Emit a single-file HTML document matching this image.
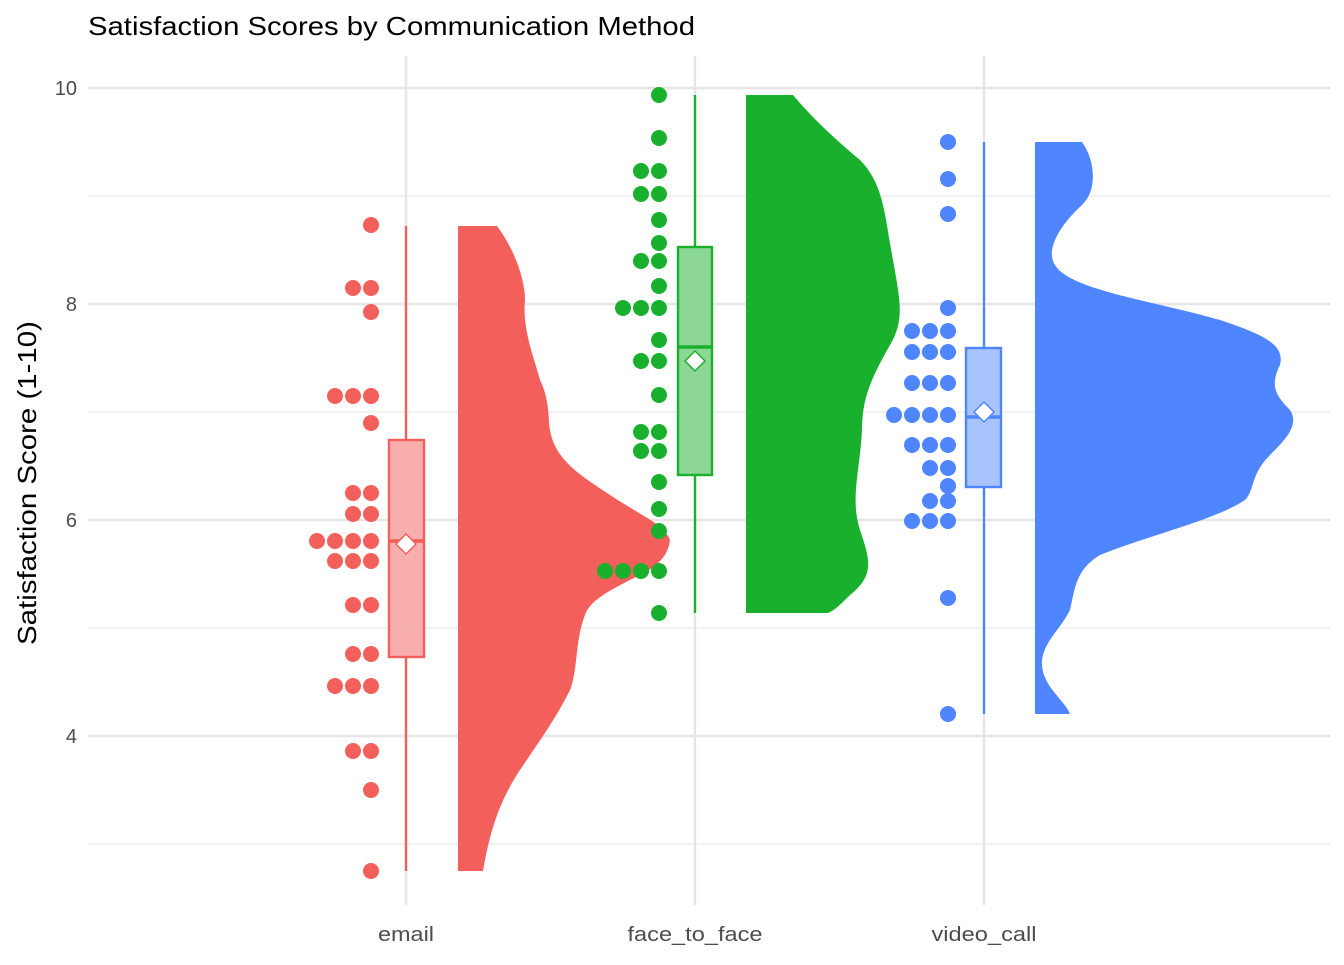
<!DOCTYPE html>
<html><head><meta charset="utf-8"><style>
body{margin:0;background:#fff;}
text{font-family:"Liberation Sans",Arial,sans-serif;}
</style></head><body>
<svg width="1344" height="960" xmlns="http://www.w3.org/2000/svg">
<rect width="1344" height="960" fill="#fff"/>
<g stroke="#ebebeb" stroke-width="1.2">
<line x1="88" x2="1330" y1="196" y2="196"/><line x1="88" x2="1330" y1="412" y2="412"/>
<line x1="88" x2="1330" y1="628" y2="628"/><line x1="88" x2="1330" y1="844" y2="844"/>
</g>
<g stroke="#e5e5e5" stroke-width="2.4">
<line x1="88" x2="1330" y1="88" y2="88"/><line x1="88" x2="1330" y1="304" y2="304"/>
<line x1="88" x2="1330" y1="520" y2="520"/><line x1="88" x2="1330" y1="736" y2="736"/>
<line x1="406" x2="406" y1="56" y2="905"/><line x1="695" x2="695" y1="56" y2="905"/><line x1="984" x2="984" y1="56" y2="905"/>
</g>
<g font-size="20" fill="#4d4d4d" text-anchor="end">
<text x="77" y="95">10</text><text x="77" y="311">8</text><text x="77" y="527">6</text><text x="77" y="743">4</text>
</g>
<g font-size="20" fill="#4d4d4d" text-anchor="middle">
<text x="406" y="941" textLength="56" lengthAdjust="spacingAndGlyphs">email</text>
<text x="695" y="941" textLength="135" lengthAdjust="spacingAndGlyphs">face_to_face</text>
<text x="984" y="941" textLength="105" lengthAdjust="spacingAndGlyphs">video_call</text>
</g>
<text x="88" y="35" font-size="26" fill="#000" textLength="607" lengthAdjust="spacingAndGlyphs">Satisfaction Scores by Communication Method</text>
<text transform="translate(36,483) rotate(-90)" font-size="26" text-anchor="middle" fill="#000" textLength="324" lengthAdjust="spacingAndGlyphs">Satisfaction Score (1-10)</text>

<path fill="#F35F5A" d="M458,226 L497,226 C515,250 525,280 525,300 C522,330 535,360 540,380 C550,400 548,420 550,430 C555,460 580,475 610,495 C640,515 665,525 670,540 C668,560 650,570 640,575 C610,590 590,600 585,615 C575,640 578,670 570,690 C555,720 540,740 520,770 C500,800 490,830 483,871 L458,871 Z"/>
<path fill="#19B02E" d="M746,95 L793,95 C810,115 830,135 860,160 C885,185 885,220 893,260 C900,300 905,320 890,345 C870,380 862,400 862,430 C860,470 850,500 860,530 C870,560 875,575 850,595 C840,605 835,610 828,613 L746,613 Z"/>
<path fill="#4F86FF" d="M1035,142 L1082,142 C1095,160 1098,190 1082,205 C1060,225 1045,250 1055,265 C1070,290 1150,300 1220,320 C1265,335 1285,345 1280,365 C1270,385 1275,395 1290,410 C1300,425 1285,440 1270,455 C1250,475 1255,490 1245,500 C1215,520 1150,535 1100,555 C1075,570 1075,590 1070,610 C1060,630 1045,640 1042,660 C1040,685 1065,700 1070,714 L1035,714 Z"/>

<g stroke-width="2.4">
<line x1="406" x2="406" y1="226" y2="871" stroke="#F35F5A"/>
<rect x="389" y="440" width="35" height="217" fill="#F8AEAC" stroke="#F35F5A"/>
<line x1="389" x2="424" y1="541" y2="541" stroke="#F35F5A" stroke-width="3.5"/>
<line x1="695" x2="695" y1="95" y2="613" stroke="#19B02E"/>
<rect x="678" y="247" width="34" height="228" fill="#8DD796" stroke="#19B02E"/>
<line x1="678" x2="712" y1="347" y2="347" stroke="#19B02E" stroke-width="3.5"/>
<line x1="984" x2="984" y1="142" y2="714" stroke="#4F86FF"/>
<rect x="966" y="348" width="35" height="139" fill="#A9C3FF" stroke="#4F86FF"/>
<line x1="966" x2="1001" y1="417" y2="417" stroke="#4F86FF" stroke-width="3.5"/>
</g>
<g fill="#fff" stroke-width="1.5">
<path d="M406,534 L416,544 L406,554 L396,544 Z" stroke="#F35F5A"/>
<path d="M695,351 L705,361 L695,371 L685,361 Z" stroke="#19B02E"/>
<path d="M984,402 L994,412 L984,422 L974,412 Z" stroke="#4F86FF"/>
</g>

<g fill="#F35F5A">
<circle cx="371" cy="225" r="8"/>
<circle cx="353" cy="288" r="8"/><circle cx="371" cy="288" r="8"/>
<circle cx="371" cy="312" r="8"/>
<circle cx="335" cy="396" r="8"/><circle cx="353" cy="396" r="8"/><circle cx="371" cy="396" r="8"/>
<circle cx="371" cy="423" r="8"/>
<circle cx="353" cy="493" r="8"/><circle cx="371" cy="493" r="8"/>
<circle cx="353" cy="514" r="8"/><circle cx="371" cy="514" r="8"/>
<circle cx="317" cy="541" r="8"/><circle cx="335" cy="541" r="8"/><circle cx="353" cy="541" r="8"/><circle cx="371" cy="541" r="8"/>
<circle cx="335" cy="561" r="8"/><circle cx="353" cy="561" r="8"/><circle cx="371" cy="561" r="8"/>
<circle cx="353" cy="605" r="8"/><circle cx="371" cy="605" r="8"/>
<circle cx="353" cy="654" r="8"/><circle cx="371" cy="654" r="8"/>
<circle cx="335" cy="686" r="8"/><circle cx="353" cy="686" r="8"/><circle cx="371" cy="686" r="8"/>
<circle cx="353" cy="751" r="8"/><circle cx="371" cy="751" r="8"/>
<circle cx="371" cy="790" r="8"/>
<circle cx="371" cy="871" r="8"/>
</g>
<g fill="#19B02E">
<circle cx="659" cy="95" r="8"/><circle cx="659" cy="138" r="8"/>
<circle cx="641" cy="171" r="8"/><circle cx="659" cy="171" r="8"/>
<circle cx="641" cy="194" r="8"/><circle cx="659" cy="194" r="8"/>
<circle cx="659" cy="220" r="8"/><circle cx="659" cy="243" r="8"/>
<circle cx="641" cy="261" r="8"/><circle cx="659" cy="261" r="8"/>
<circle cx="659" cy="286" r="8"/>
<circle cx="623" cy="308" r="8"/><circle cx="641" cy="308" r="8"/><circle cx="659" cy="308" r="8"/>
<circle cx="659" cy="340" r="8"/>
<circle cx="641" cy="361" r="8"/><circle cx="659" cy="361" r="8"/>
<circle cx="659" cy="395" r="8"/>
<circle cx="641" cy="432" r="8"/><circle cx="659" cy="432" r="8"/>
<circle cx="641" cy="451" r="8"/><circle cx="659" cy="451" r="8"/>
<circle cx="659" cy="482" r="8"/><circle cx="659" cy="509" r="8"/><circle cx="659" cy="531" r="8"/>
<circle cx="605" cy="571" r="8"/><circle cx="623" cy="571" r="8"/><circle cx="641" cy="571" r="8"/><circle cx="659" cy="571" r="8"/>
<circle cx="659" cy="613" r="8"/>
</g>
<g fill="#4F86FF">
<circle cx="948" cy="142" r="8"/><circle cx="948" cy="179" r="8"/><circle cx="948" cy="214" r="8"/><circle cx="948" cy="308" r="8"/>
<circle cx="912" cy="331" r="8"/><circle cx="930" cy="331" r="8"/><circle cx="948" cy="331" r="8"/>
<circle cx="912" cy="352" r="8"/><circle cx="930" cy="352" r="8"/><circle cx="948" cy="352" r="8"/>
<circle cx="912" cy="383" r="8"/><circle cx="930" cy="383" r="8"/><circle cx="948" cy="383" r="8"/>
<circle cx="894" cy="415" r="8"/><circle cx="912" cy="415" r="8"/><circle cx="930" cy="415" r="8"/><circle cx="948" cy="415" r="8"/>
<circle cx="912" cy="445" r="8"/><circle cx="930" cy="445" r="8"/><circle cx="948" cy="445" r="8"/>
<circle cx="930" cy="468" r="8"/><circle cx="948" cy="468" r="8"/>
<circle cx="948" cy="486" r="8"/>
<circle cx="930" cy="501" r="8"/><circle cx="948" cy="501" r="8"/>
<circle cx="912" cy="521" r="8"/><circle cx="930" cy="521" r="8"/><circle cx="948" cy="521" r="8"/>
<circle cx="948" cy="598" r="8"/><circle cx="948" cy="714" r="8"/>
</g>
</svg>
</body></html>
